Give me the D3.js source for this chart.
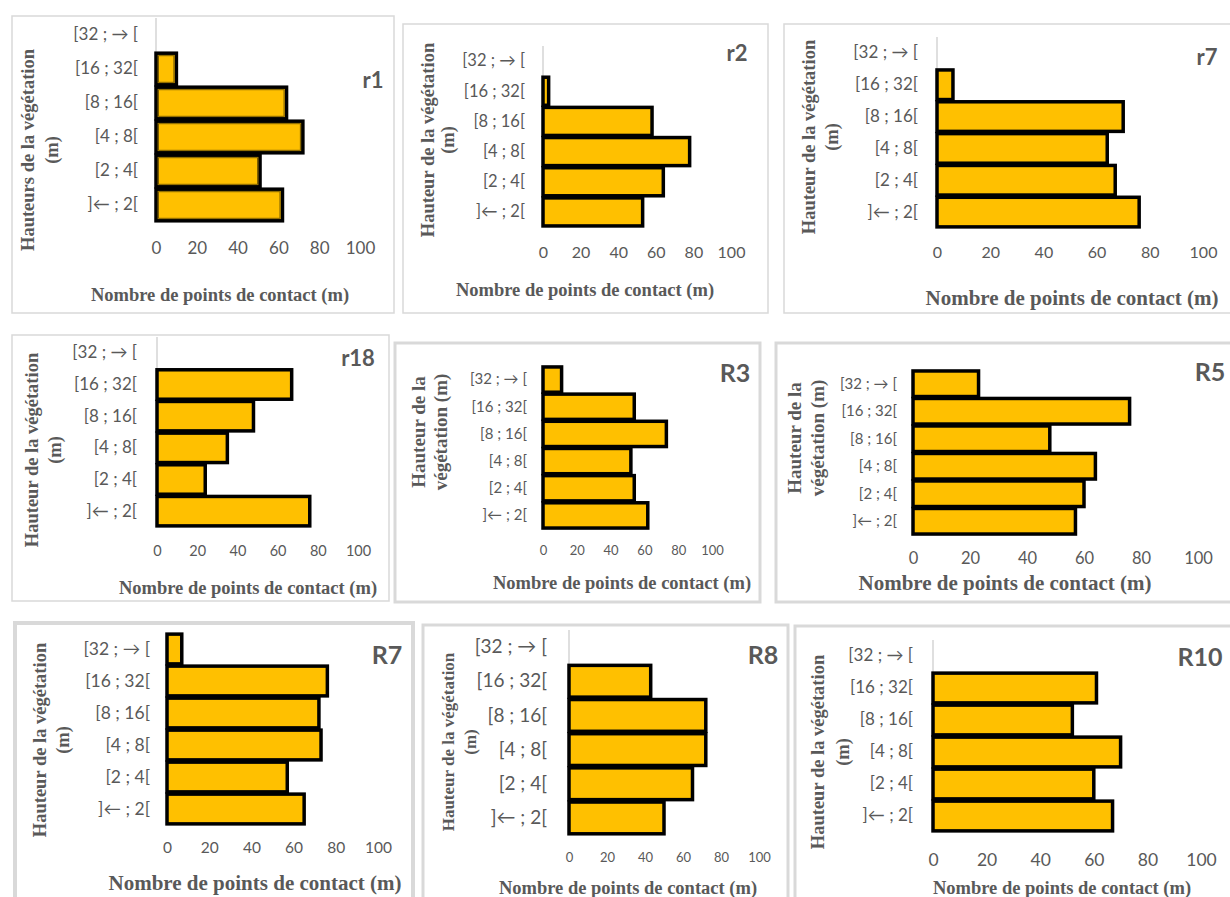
<!DOCTYPE html>
<html><head><meta charset="utf-8">
<script src="https://cdn.jsdelivr.net/npm/d3@7"></script>
<style>
html,body{margin:0;padding:0;background:#fff;}
svg{display:block;}
</style></head>
<body>
<svg id="chart" width="1230" height="897"></svg>
<script>
// ---- data ----
const categories = ["]\u2190 ; 2[", "[2 ; 4[", "[4 ; 8[", "[8 ; 16[", "[16 ; 32[", "[32 ; \u2192 ["];
const xTicks = [0, 20, 40, 60, 80, 100];
const panelNames = ["r1", "r2", "r7", "r18", "R3", "R5", "R7", "R8", "R10"];
const r1Values  = [62, 51, 72, 64, 10, 0];
const r2Values  = [53, 64, 78, 58, 3, 0];
const r7Values  = [76, 67, 64, 70, 6, 0];
const r18Values = [76, 24, 35, 48, 67, 0];
const R3Values  = [62, 54, 52, 73, 54, 11];
const R5Values  = [57, 60, 64, 48, 76, 23];
const R7Values  = [65, 57, 73, 72, 76, 7];
const R8Values  = [50, 65, 72, 72, 43, 0];
const R10Values = [67, 60, 70, 52, 61, 0];
const xTitle = "Nombre de points de contact (m)";
const yTitles = {
  r1: ["Hauteurs de la végétation", "(m)"],
  r2: ["Hauteur de la végétation", "(m)"],
  r7: ["Hauteur de la végétation", "(m)"],
  r18: ["Hauteur de la végétation", "(m)"],
  R3: ["Hauteur de la", "végétation  (m)"],
  R5: ["Hauteur de la", "végétation (m)"],
  R7: ["Hauteur de la végétation", "(m)"],
  R8: ["Hauteur de la végétation", "(m)"],
  R10: ["Hauteur de la végétation", "(m)"]
};
const valuesByPanel = {r1: r1Values, r2: r2Values, r7: r7Values, r18: r18Values,
  R3: R3Values, R5: R5Values, R7: R7Values, R8: R8Values, R10: R10Values};

// ---- layout ----
const layout = {
  r1:  {frame:[12,16,382,297,1.5], plot:[156,360,18,222], tickY:248, ytf:17, xtf:17, xT:[220,295,18.5], name:[373,80,22], yT:[28,52,150,18.5], lab:18, dbl:true},
  r2:  {frame:[403,24,365,289,1.5], plot:[543,731,46,227], tickY:252, ytf:16.5, xtf:16, xT:[585,290,18.5], name:[737,53,22], yT:[428,448,140,18.5], lab:18},
  r7:  {frame:[784,24,460,289,1.5], plot:[937,1203,37,228], tickY:252, ytf:17, xtf:16, xT:[1072,298,21], name:[1207,57,22], yT:[809,832,137,18.5], lab:19},
  r18: {frame:[12,335,377,266,1.5], plot:[157,358,337,527], tickY:551, ytf:17, xtf:14.5, xT:[248,588,18.5], name:[358,358,22], yT:[32,55,450,18.5], lab:20},
  R3:  {frame:[395,343,365,259,3], plot:[543,712,366,529], tickY:550, ytf:15, xtf:13, xT:[622,583,18.5], name:[735,373,25], yT:[418,440,432,19], lab:16},
  R5:  {frame:[776,343,460,259,3], plot:[913,1198,370,535], tickY:558, ytf:15, xtf:16.5, xT:[1005,583,21], name:[1210,372,25], yT:[794,817,438,19], lab:16},
  R7:  {frame:[15,623,398,290,4], plot:[167,378,633,825], tickY:848, ytf:17.5, xtf:15.5, xT:[255,883,21], name:[387,655,25], yT:[40,63,740,18.5], lab:17},
  R8:  {frame:[423,625,365,290,3], plot:[569,759,630,835], tickY:857, ytf:19, xtf:13, xT:[628,888,18.5], name:[763,655,25], yT:[448,470,742,17], lab:22},
  R10: {frame:[795,626,440,290,3], plot:[933,1201,640,832], tickY:860, ytf:17, xtf:17.5, xT:[1062,888,18.5], name:[1200,657,25], yT:[818,843,752,18.5], lab:20}
};

const svg = d3.select("#chart");
const GRAY = "#595959";
const SANS = "Lato, 'Open Sans', sans-serif";
const SERIF = "'Liberation Serif', 'Times New Roman', serif";

panelNames.forEach(name => {
  const L = layout[name];
  const vals = valuesByPanel[name];
  const data = categories.map((c, i) => ({cat: c, v: vals[i]}));
  const g = svg.append("g");
  const [fx, fy, fw, fh, fs] = L.frame;
  g.append("rect").attr("x", fx).attr("y", fy).attr("width", fw).attr("height", fh)
    .attr("fill", "#fff").attr("stroke", "#d9d9d9").attr("stroke-width", fs);

  const [x0, x1, yTop, yBot] = L.plot;
  const x = d3.scaleLinear().domain([0, 100]).range([x0, x1]);
  const y = d3.scaleBand().domain(categories).range([yBot, yTop]).paddingInner(0.07).paddingOuter(0.035);

  // vertical axis line
  g.append("line").attr("x1", x0).attr("x2", x0).attr("y1", yTop).attr("y2", yBot)
    .attr("stroke", "#bfbfbf").attr("stroke-width", 1);

  // bars
  g.selectAll("rect.bar").data(data.filter(d => d.v > 0)).join("rect").attr("class", "bar")
    .attr("x", x(0)).attr("y", d => y(d.cat))
    .attr("width", d => x(d.v) - x(0)).attr("height", y.bandwidth())
    .attr("fill", "#FFC000").attr("stroke", "#000").attr("stroke-width", 3.5);
  if (L.dbl) {
    g.selectAll("rect.inner").data(data.filter(d => d.v > 0)).join("rect").attr("class", "inner")
      .attr("x", x(0) + 2.5).attr("y", d => y(d.cat) + 2.5)
      .attr("width", d => Math.max(0, x(d.v) - x(0) - 5)).attr("height", y.bandwidth() - 5)
      .attr("fill", "none").attr("stroke", "#7a5c00").attr("stroke-width", 1);
  }

  // x axis tick labels
  const xa = d3.axisBottom(x).tickValues(xTicks).tickSize(0).tickPadding(0);
  const xg = g.append("g").attr("transform", `translate(0,${L.tickY})`).call(xa);
  xg.select(".domain").remove();
  xg.selectAll("text").attr("dy", "0.35em").attr("y", 0)
    .attr("font-family", SANS).attr("font-size", L.xtf).attr("fill", GRAY);

  // y axis category labels
  const ya = d3.axisLeft(y).tickSize(0).tickPadding(L.lab);
  const yg = g.append("g").attr("transform", `translate(${x0},0)`).call(ya);
  yg.select(".domain").remove();
  yg.selectAll("text").attr("font-family", SANS).attr("font-size", L.ytf).attr("fill", GRAY);

  // x title
  g.append("text").attr("x", L.xT[0]).attr("y", L.xT[1]).attr("dy", "0.35em")
    .attr("text-anchor", "middle").attr("font-family", SERIF).attr("font-weight", "bold")
    .attr("font-size", L.xT[2]).attr("fill", GRAY).text(xTitle);

  // panel name
  g.append("text").attr("x", L.name[0]).attr("y", L.name[1]).attr("dy", "0.35em")
    .attr("text-anchor", "middle").attr("font-family", SANS).attr("font-weight", "bold")
    .attr("font-size", L.name[2]).attr("fill", GRAY).text(name);

  // y title (rotated, two lines)
  const [lx1, lx2, cy, yfs] = L.yT;
  [lx1, lx2].forEach((lx, i) => {
    g.append("text").attr("transform", `translate(${lx},${cy}) rotate(-90)`)
      .attr("dy", "0.35em").attr("text-anchor", "middle")
      .attr("font-family", SERIF).attr("font-weight", "bold")
      .attr("font-size", yfs).attr("fill", GRAY).text(yTitles[name][i]);
  });
});
</script>
</body></html>
